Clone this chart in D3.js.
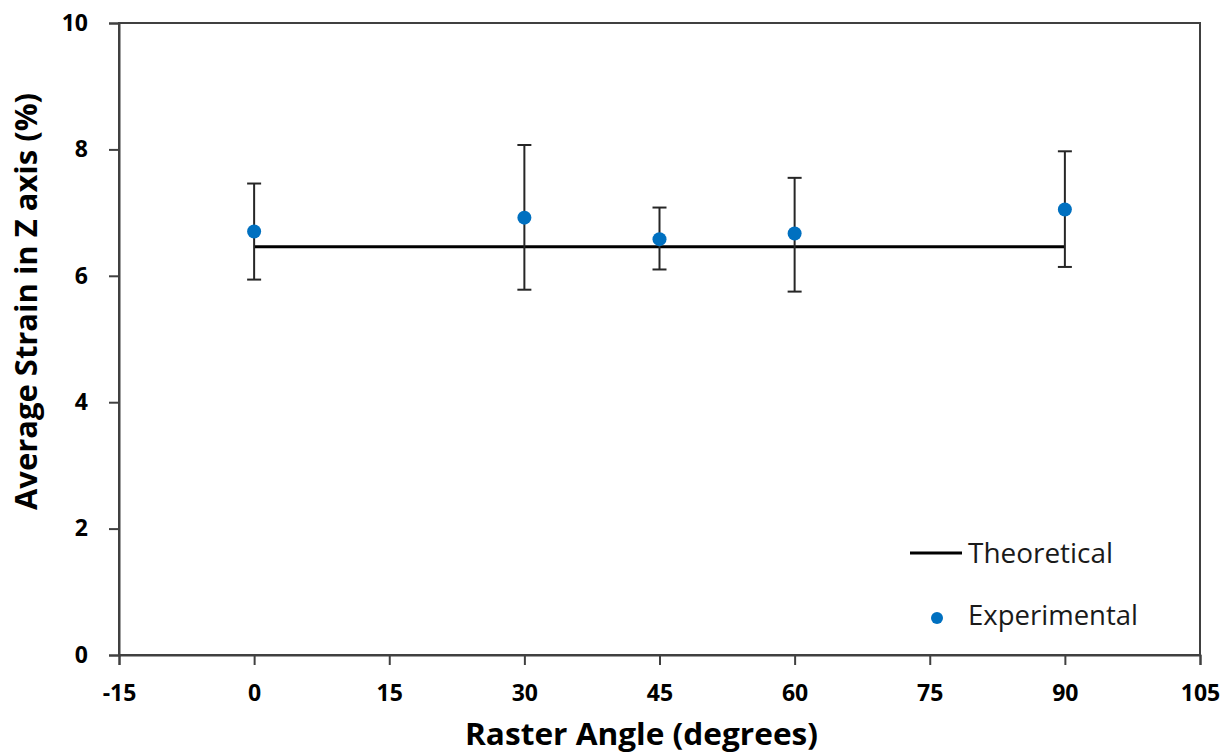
<!DOCTYPE html>
<html>
<head>
<meta charset="utf-8">
<script src="https://cdn.jsdelivr.net/npm/d3@7"></script>
<style>
  body { margin: 0; background: #fff; }
  svg { display: block; font-family: "Open Sans", "Liberation Sans", sans-serif; }
</style>
</head>
<body>
<svg width="1232" height="754"></svg>
<script>
// data
const angles = [0, 30, 45, 60, 90];
const strain = [6.70, 6.92, 6.58, 6.67, 7.05];
const errLow = [5.94, 5.78, 6.10, 5.75, 6.14];
const errHigh = [7.46, 8.07, 7.08, 7.55, 7.97];
const theoretical = [[0, 6.46], [90, 6.46]];
const xTicks = [-15, 0, 15, 30, 45, 60, 75, 90, 105];
const yTicks = [0, 2, 4, 6, 8, 10];

const svg = d3.select("svg");
const margin = { top: 23, right: 32, bottom: 99, left: 119 };
const width = +svg.attr("width") - margin.left - margin.right;
const height = +svg.attr("height") - margin.top - margin.bottom;

const g = svg.append("g").attr("transform", `translate(${margin.left},${margin.top})`);

const x = d3.scaleLinear().domain([-15, 105]).range([0, width]);
const y = d3.scaleLinear().domain([0, 10]).range([height, 0]);

const axisColor = "#404040";

// plot border
g.append("rect")
  .attr("width", width)
  .attr("height", height)
  .attr("fill", "none")
  .attr("stroke", axisColor)
  .attr("stroke-width", 2);

// X axis
const xAxis = g.append("g")
  .attr("transform", `translate(0,${height})`)
  .call(d3.axisBottom(x).tickValues(xTicks).tickFormat(d => String(d)).tickSize(10).tickPadding(20));

// Y axis
const yAxis = g.append("g")
  .call(d3.axisLeft(y).tickValues(yTicks).tickFormat(d => String(d)).tickSize(10).tickPadding(21));

[xAxis, yAxis].forEach(a => {
  a.attr("font-family", null);
  a.select(".domain").attr("stroke", axisColor).attr("stroke-width", 2);
  a.selectAll(".tick line").attr("stroke", axisColor).attr("stroke-width", 2);
  a.selectAll(".tick text")
    .attr("fill", "#000")
    .style("font-size", "23px")
    .style("font-weight", "bold");
});

// Axis titles
svg.append("text")
  .attr("x", 641.5)
  .attr("y", 745)
  .attr("text-anchor", "middle")
  .attr("textLength", 353)
  .attr("lengthAdjust", "spacingAndGlyphs")
  .style("font-size", "30px")
  .style("font-weight", "bold")
  .text("Raster Angle (degrees)");

svg.append("text")
  .attr("transform", `translate(37,301.5) rotate(-90)`)
  .attr("text-anchor", "middle")
  .attr("textLength", 417)
  .attr("lengthAdjust", "spacingAndGlyphs")
  .style("font-size", "30px")
  .style("font-weight", "bold")
  .text("Average Strain in Z axis (%)");

// Theoretical line
g.append("path")
  .datum(theoretical)
  .attr("fill", "none")
  .attr("stroke", "#000")
  .attr("stroke-width", 3)
  .attr("d", d3.line().x(d => x(d[0])).y(d => y(d[1])));

// Error bars
const pts = angles.map((a, i) => ({ a, v: strain[i], lo: errLow[i], hi: errHigh[i] }));
const eb = g.selectAll(".err").data(pts).enter().append("g")
  .attr("class", "err")
  .attr("stroke", "#262626")
  .attr("stroke-width", 2);
eb.append("line")
  .attr("x1", d => x(d.a)).attr("x2", d => x(d.a))
  .attr("y1", d => y(d.lo)).attr("y2", d => y(d.hi));
eb.append("line")
  .attr("x1", d => x(d.a) - 7).attr("x2", d => x(d.a) + 7)
  .attr("y1", d => y(d.hi)).attr("y2", d => y(d.hi));
eb.append("line")
  .attr("x1", d => x(d.a) - 7).attr("x2", d => x(d.a) + 7)
  .attr("y1", d => y(d.lo)).attr("y2", d => y(d.lo));

// Points
g.selectAll(".pt").data(pts).enter().append("circle")
  .attr("class", "pt")
  .attr("cx", d => x(d.a))
  .attr("cy", d => y(d.v))
  .attr("r", 7)
  .attr("fill", "#0070C0");

// Legend
const legend = svg.append("g");
legend.append("line")
  .attr("x1", 910).attr("x2", 962)
  .attr("y1", 553).attr("y2", 553)
  .attr("stroke", "#000").attr("stroke-width", 3);
legend.append("text")
  .attr("x", 968).attr("y", 563)
  .attr("textLength", 145)
  .attr("lengthAdjust", "spacingAndGlyphs")
  .style("font-size", "27px")
  .attr("fill", "#1a1a1a")
  .text("Theoretical");
legend.append("circle")
  .attr("cx", 937).attr("cy", 618).attr("r", 6)
  .attr("fill", "#0070C0");
legend.append("text")
  .attr("x", 968).attr("y", 625)
  .attr("textLength", 170)
  .attr("lengthAdjust", "spacingAndGlyphs")
  .style("font-size", "27px")
  .attr("fill", "#1a1a1a")
  .text("Experimental");
</script>
</body>
</html>
